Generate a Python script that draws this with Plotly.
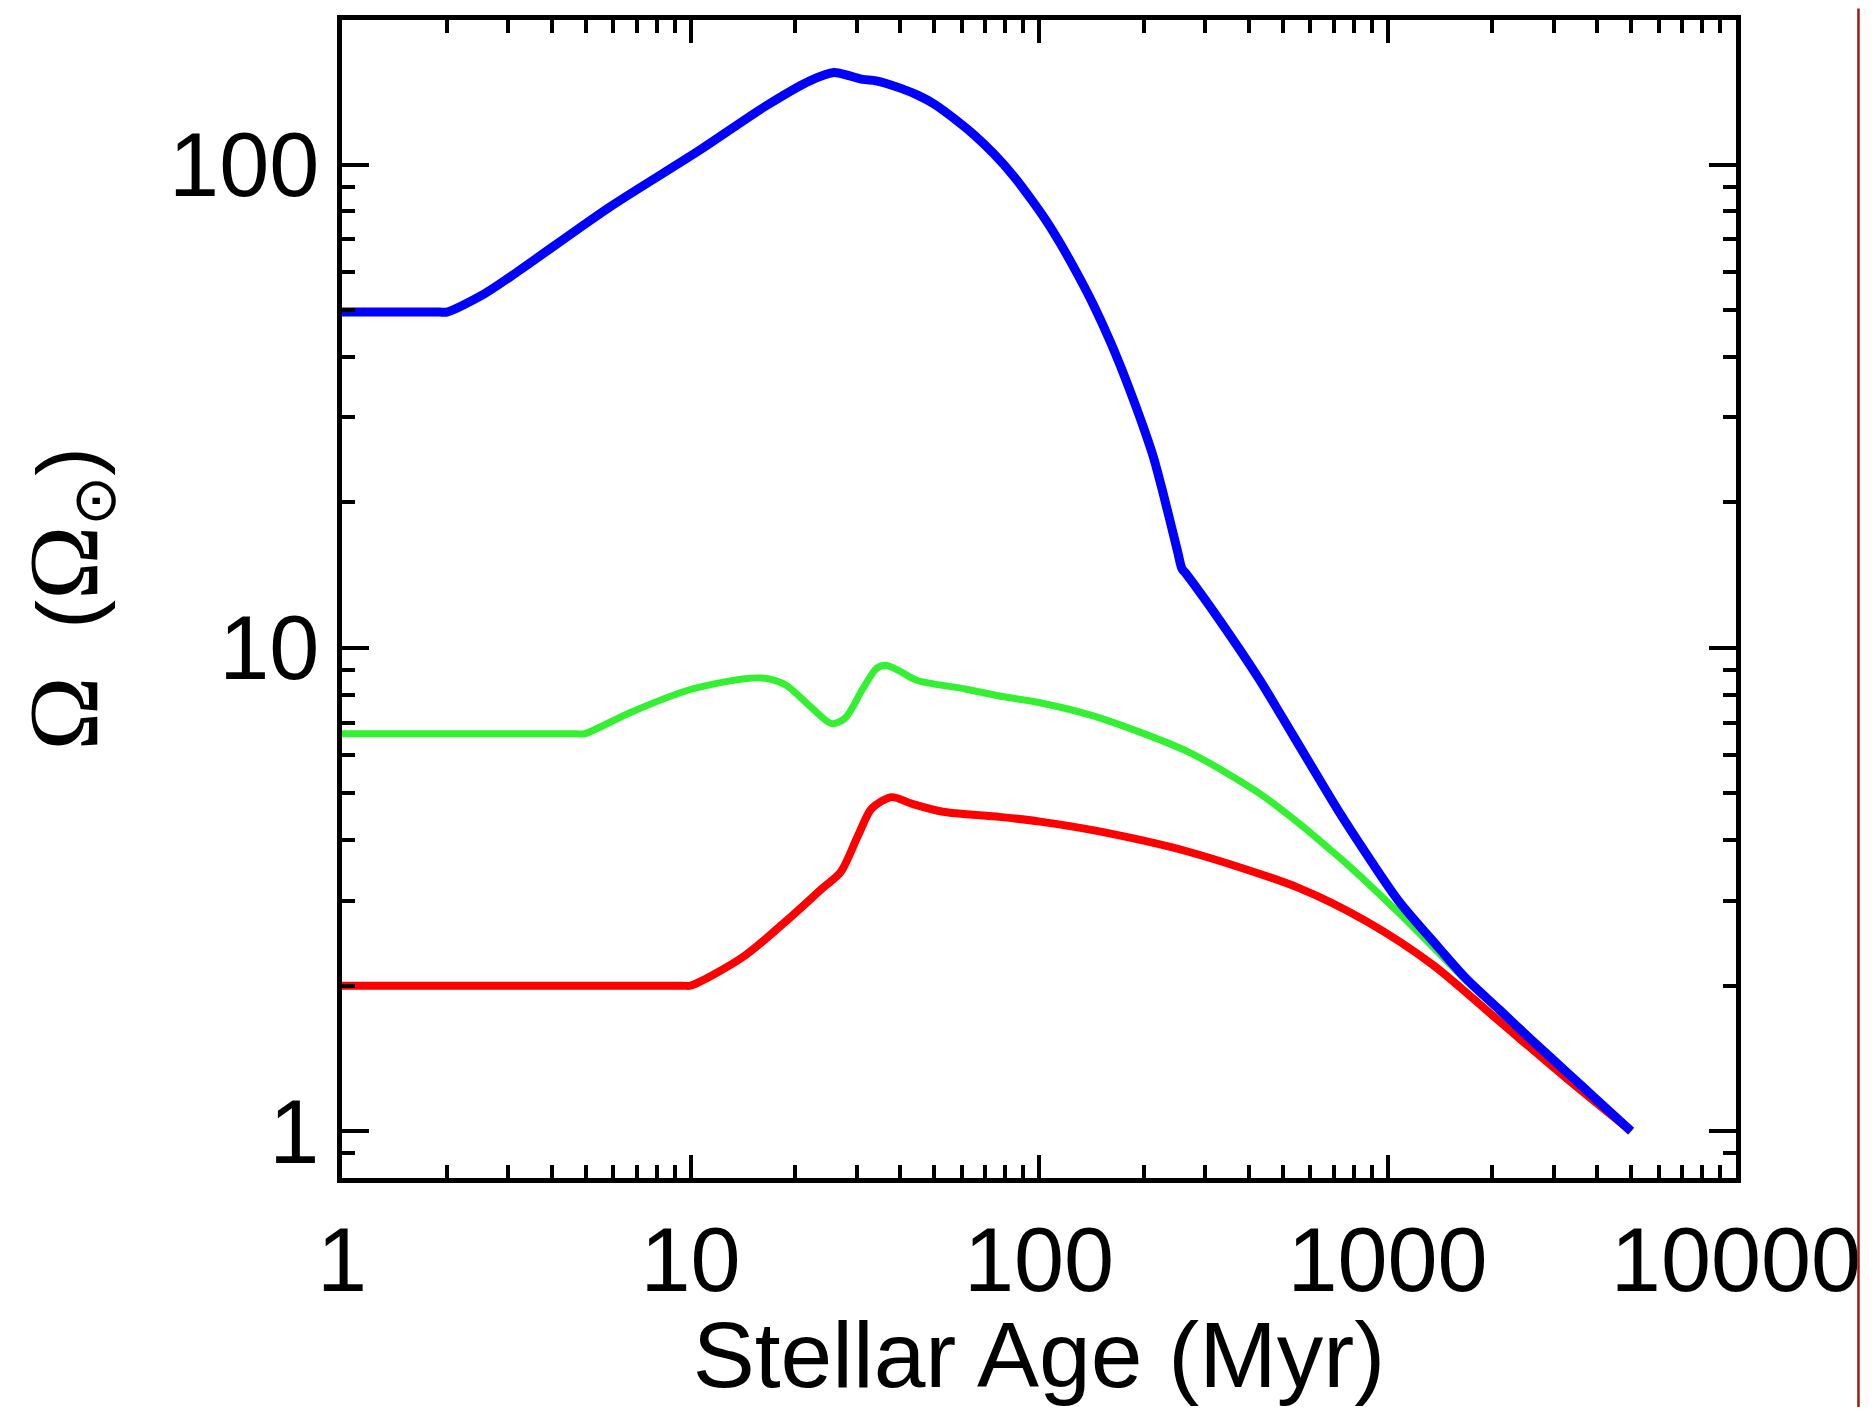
import plotly.graph_objects as go

# ---- data ----
blue_age = [1, 1.9, 2.0, 2.56, 3.23, 5.84, 10.5, 16.4, 22, 25.8, 28.2, 31.2, 34.1, 40, 45, 50,
            59.5, 65, 74, 85, 95, 105, 115, 130, 143, 160, 171, 186, 199, 213, 227, 250, 257,
            265, 330, 429, 498, 600, 727, 900, 1082, 1400, 1679, 2100, 2600, 3300, 4045, 5000]
blue_omega = [49.5, 49.5, 49.5, 54, 60.4, 81.5, 106.5, 132, 149, 155, 153, 150, 149, 143.9, 139, 133.4,
              121.6, 115.3, 105.4, 94.2, 84.7, 76.4, 68.7, 58.7, 51.4, 43.1, 38.4, 32.8, 28.7, 24.8,
              20.9, 15.8, 14.6, 14.2, 11.4, 8.6, 7.2, 5.75, 4.57, 3.61, 2.98, 2.40, 2.07, 1.78, 1.54,
              1.316, 1.15, 1.0]

green_age = [1, 4.7, 4.96, 6.75, 9.89, 14.1, 16.4, 18.8, 21.9, 25.4, 27.7, 31.2, 34.1, 36.2, 39.5,
             44.5, 61.4, 77, 100.7, 144, 267, 429, 560, 683, 778, 1082, 1409, 1679, 2100, 2600,
             3300, 4045, 5000]
green_omega = [6.64, 6.64, 6.64, 7.36, 8.18, 8.62, 8.65, 8.37, 7.6, 6.97, 7.14, 8.22, 9.05, 9.2, 8.98,
               8.57, 8.22, 7.95, 7.7, 7.22, 6.1, 5.0, 4.32, 3.83, 3.53, 2.82, 2.33, 2.05, 1.77, 1.535,
               1.313, 1.148, 1.0]

red_age = [1, 9.5, 10, 14.1, 18.8, 23.9, 27, 30.3, 33.1, 37.7, 43.1, 53, 77, 100.7, 144, 267, 560,
           868, 1348, 2089, 3245, 5000]
red_omega = [2.0, 2.0, 2.0, 2.29, 2.72, 3.18, 3.44, 4.1, 4.65, 4.91, 4.76, 4.58, 4.47, 4.37, 4.19,
             3.79, 3.18, 2.72, 2.21, 1.69, 1.29, 1.0]

x_tickvals = [1, 10, 100, 1000, 10000]
x_ticktext = ["1", "10", "100", "1000", "10000"]
y_tickvals = [1, 10, 100]
y_ticktext = ["1", "10", "100"]

fig = go.Figure()
fig.add_trace(go.Scatter(x=red_age, y=red_omega, mode="lines",
                         line=dict(color="#FF0000", width=8, shape="spline", smoothing=0.8),
                         showlegend=False))
fig.add_trace(go.Scatter(x=green_age, y=green_omega, mode="lines",
                         line=dict(color="#33F033", width=7, shape="spline", smoothing=0.8),
                         showlegend=False))
fig.add_trace(go.Scatter(x=blue_age, y=blue_omega, mode="lines",
                         line=dict(color="#0000FF", width=9, shape="spline", smoothing=0.8),
                         showlegend=False))

font_sans = "Liberation Sans, Arial, Helvetica, sans-serif"

# page body has an 8px default margin, so the figure is offset by 8px
fig.update_layout(
    width=1860, height=1399,
    margin=dict(l=334, r=126, t=7, b=229),
    paper_bgcolor="white", plot_bgcolor="white",
    font=dict(family=font_sans, color="black", size=90),
)
fig.update_xaxes(
    type="log", range=[0, 4],
    tickvals=x_tickvals, ticktext=x_ticktext, ticklabeloverflow="allow",
    ticks="inside", ticklen=23, tickwidth=4, tickcolor="black",
    showline=True, linewidth=4.5, linecolor="black", mirror="allticks",
    showgrid=False, zeroline=False,
    tickfont=dict(size=90, family=font_sans),
    minor=dict(ticks="inside", ticklen=13, tickwidth=4, tickcolor="black",
               dtick="D1", showgrid=False),
    title=dict(text="Stellar Age (Myr)", font=dict(size=93, family=font_sans), standoff=8),
)
fig.update_yaxes(
    type="log", range=[-0.0969, 2.299],
    tickvals=y_tickvals, ticktext=y_ticktext,
    ticks="inside", ticklen=27, tickwidth=4, tickcolor="black",
    showline=True, linewidth=4.5, linecolor="black", mirror="allticks",
    showgrid=False, zeroline=False,
    tickfont=dict(size=90, family=font_sans),
    minor=dict(ticks="inside", ticklen=13, tickwidth=4, tickcolor="black",
               dtick="D1", showgrid=False),
    title=dict(text='<span style="font-family:Liberation Serif;font-size:100px">Ω</span>\u00a0 (<span style="font-family:Liberation Serif;font-size:100px">Ω</span><sub>⊙</sub>)',
               font=dict(size=86, family=font_sans), standoff=62),
)

# thin dark-red border line at the right edge of the image
fig.add_shape(type="line", xref="paper", yref="paper",
              x0=(1857 - 334) / 1400, x1=(1857 - 334) / 1400,
              y0=-0.2, y1=1.01, line=dict(color="#9B1B10", width=2.5))

fig.write_html("out.html")
